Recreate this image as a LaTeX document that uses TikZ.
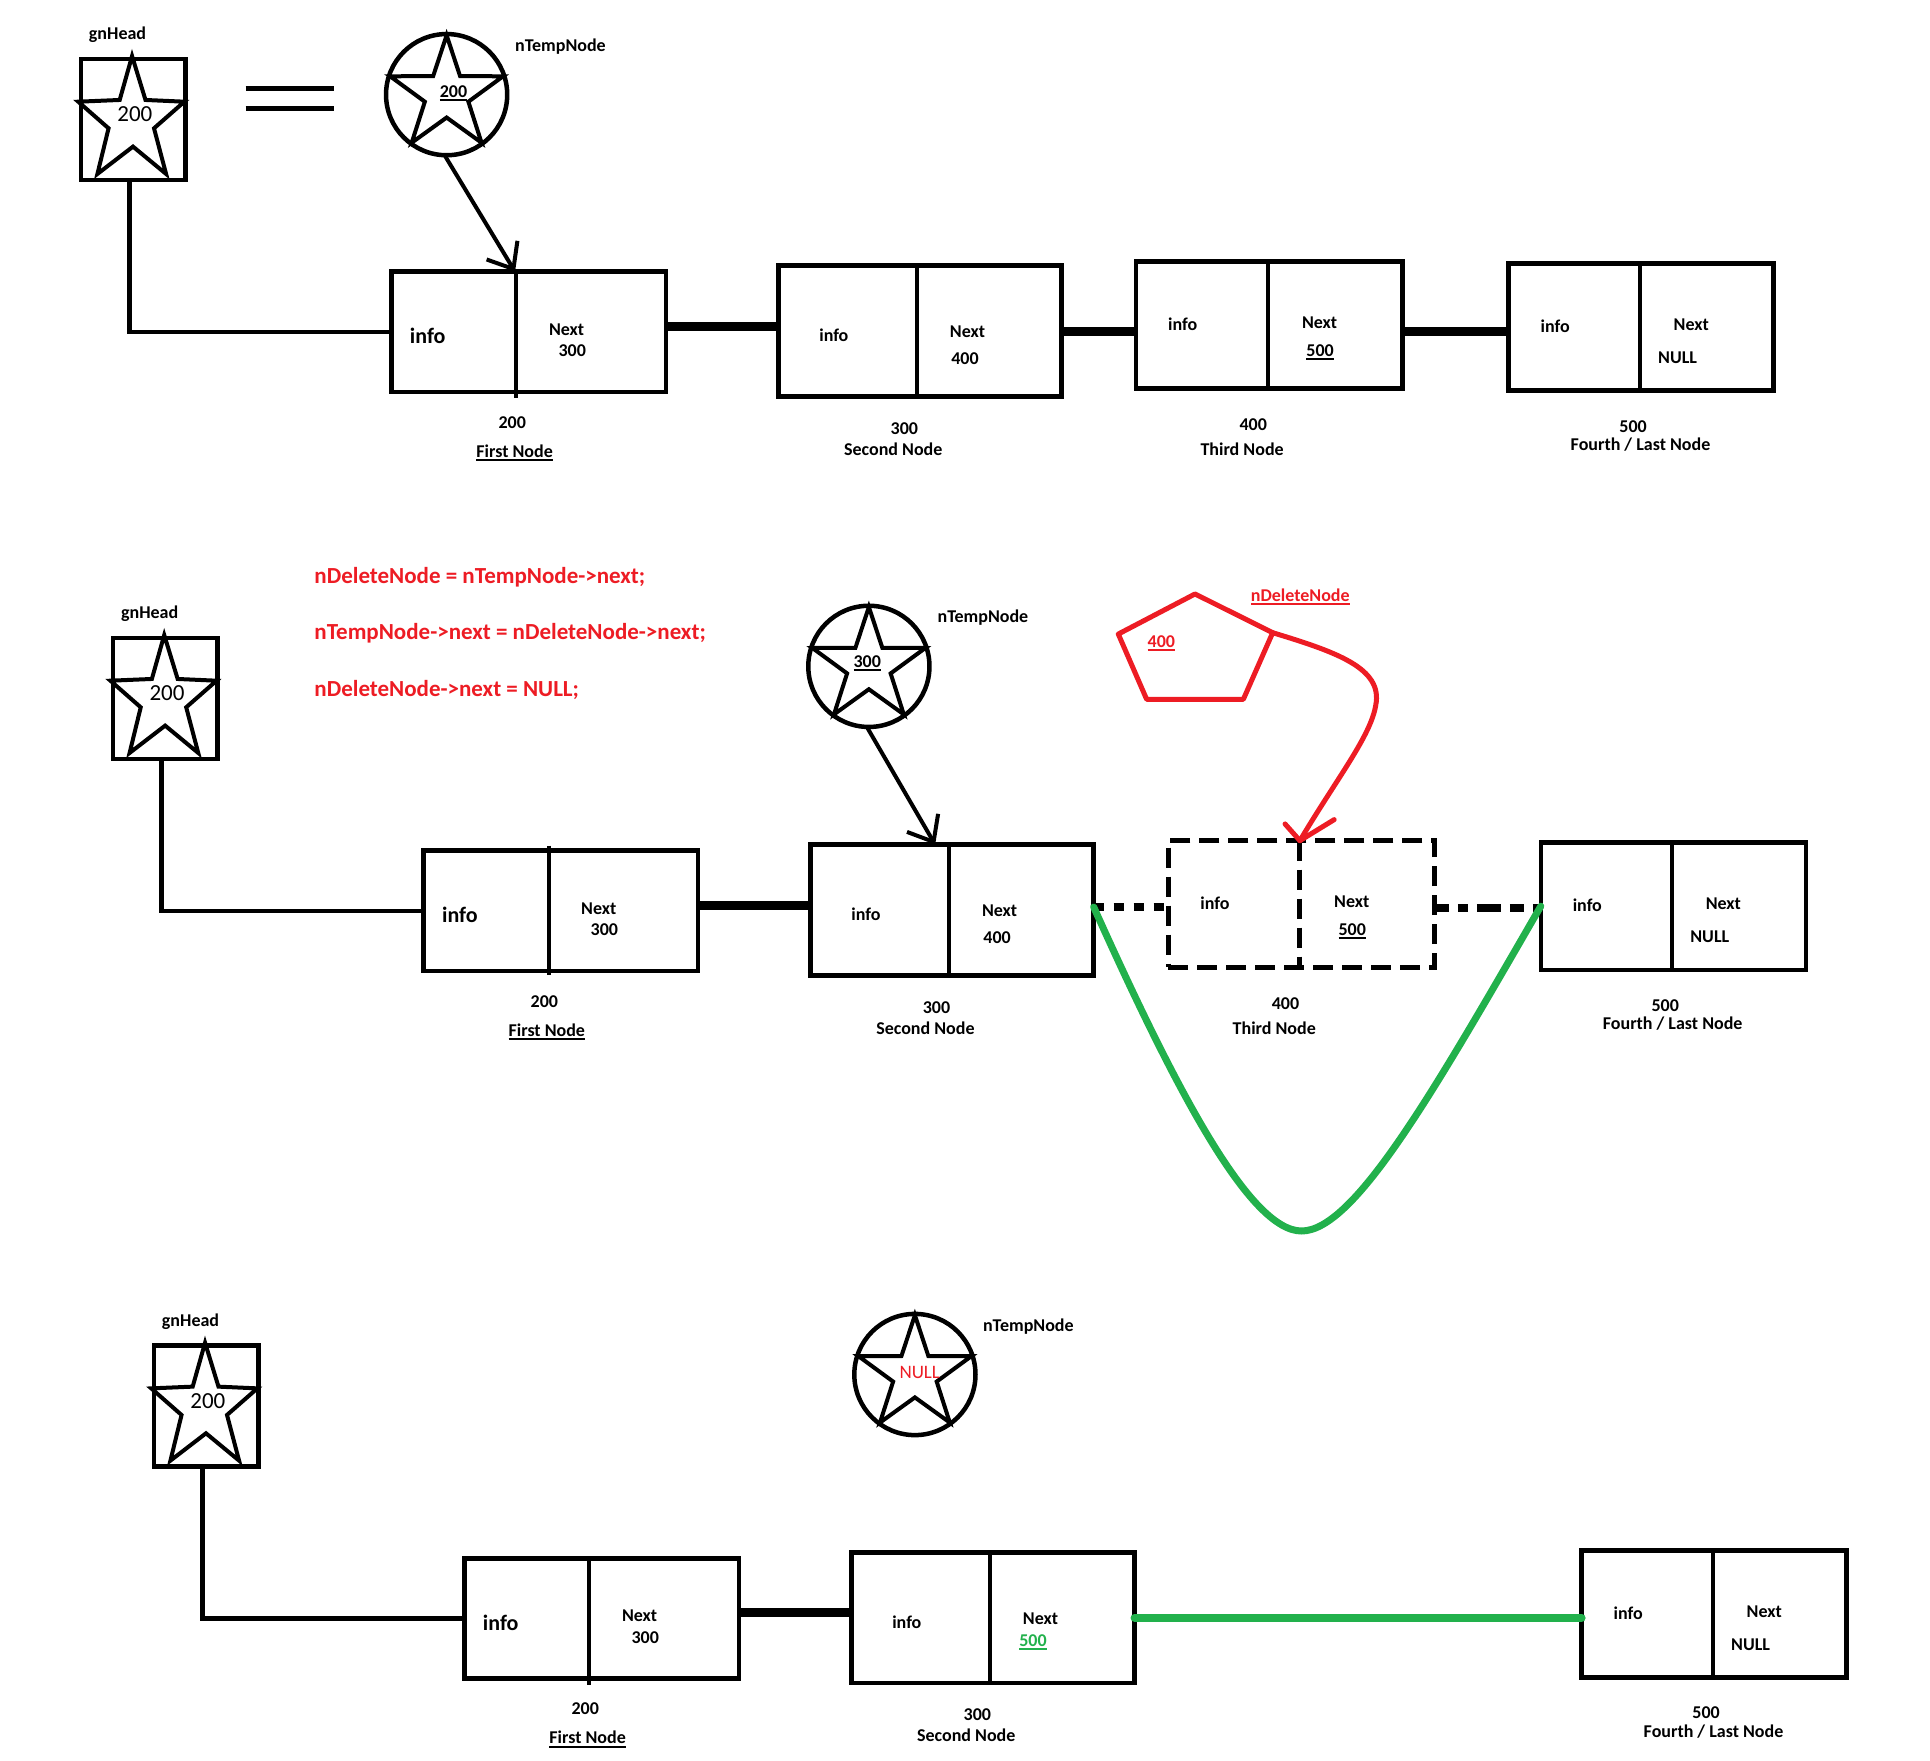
\documentclass[tikz,border=0pt]{standalone}
\usepackage{fontspec}
\setmainfont{Carlito}
\usetikzlibrary{arrows.meta,calc}
\definecolor{paintred}{RGB}{237,28,36}
\definecolor{paintgreen}{RGB}{34,177,76}
\newcommand{\ulbox}[1]{\setbox0=\hbox{#1}\rlap{\vrule width\wd0 height -1.6pt depth 3.6pt}\box0}
\begin{document}
\begin{tikzpicture}[x=1.2372pt,y=-1.2372pt,%
  lbl/.style={anchor=base,inner sep=0pt,font=\fontsize{18}{20}\selectfont\bfseries},%
  biglbl/.style={lbl,font=\fontsize{22}{24}\selectfont\bfseries},%
  headval/.style={anchor=base,inner sep=0pt,font=\fontsize{23}{26}\selectfont},%
  code/.style={anchor=base west,inner sep=0pt,text=paintred,font=\fontsize{23}{26}\selectfont\bfseries},%
  cell/.style={draw,line width=4.5pt,anchor=north west,outer sep=0pt,inner sep=0pt},%
  ghost/.style={cell,line width=5pt,dash pattern=on 20pt off 9pt},%
  headbox/.style={draw,line width=4.5pt,outer sep=0pt,inner sep=0pt,minimum width=104.5pt,minimum height=121.2pt},%
  tempring/.style={draw,circle,line width=4.5pt,outer sep=0pt,inner sep=0pt,minimum size=121.2pt},%
  starline/.style={line width=4pt},%
  divider/.style={line width=4pt},%
  link/.style={line width=9pt},%
  ptr/.style={line width=4pt,-{Straight Barb[length=22pt,width=36pt]}},%
  redline/.style={line width=5pt,draw=paintred,line cap=round,line join=round},%
  greenline/.style={line width=8pt,draw=paintgreen,line cap=round}]%
\useasboundingbox (0,0) rectangle (1560,1422.6);%
%
% first picture: the list as it is
\begin{scope}[shift={(0,0)}]%
\node[lbl] (gnA) at (95,31.8) {gnHead};%
\node[headbox] (headA) at (107.75,96.5) {};%
\draw[starline,shift={(headA.center)}] (-1,-51.2) -- (9.85,-15.7) -- (41.25,-14.3) -- (16.75,7.2) -- (26.5,44.1) -- (-0.25,22) -- (-29,44.1) -- (-20,7.2) -- (-44.5,-14.3) -- (-11,-15.7) -- cycle;%
\node[headval] (hvA) at (109,98.3) {200};%
\draw[line width=4.5pt] (198.5,71.7) -- (270,71.7);%
\draw[line width=4.5pt] (198.5,87.5) -- (270,87.5);%
\node[tempring] (tmpA) at (361,76.5) {};%
\draw[starline,shift={(tmpA.center)}] (270:48) -- (306:18.5) -- (342:48) -- (18:18.5) -- (54:48) -- (90:18.5) -- (126:48) -- (162:18.5) -- (198:48) -- (234:18.5) -- cycle;%
\node[lbl] (tvA) at (366.6,78.7) {\ulbox{200}};%
\node[lbl] (tnA) at (453,41.5) {nTempNode};%
%
\node[cell,minimum width=274.4pt,minimum height=120.3pt] (firstA) at (316.5,219.6) {};%
\draw[divider] ($(firstA.north west)!.455!(firstA.north east)$) -- ($(firstA.south west)!.455!(firstA.south east)+(0,5)$);%
\node[biglbl] (iA1) at (345.7,277.5) {info};%
\node[lbl] (xA1) at (458,270.8) {Next};%
\node[lbl] (vA1) at (462.5,288.3) {300};%
\node[lbl] (aA1) at (414,346) {200};%
\node[lbl] (cA1) at (416,369.6) {\ulbox{First Node}};%
%
\node[cell,minimum width=283.1pt,minimum height=130.8pt] (secondA) at (629.2,214.7) {};%
\draw[divider] ($(secondA.north west)!.49!(secondA.north east)$) -- ($(secondA.south west)!.49!(secondA.south east)$);%
\node[lbl] (iA2) at (674,276.2) {info};%
\node[lbl] (xA2) at (782,272.7) {Next};%
\node[lbl] (vA2) at (780,295) {400};%
\node[lbl] (aA2) at (731,351) {300};%
\node[lbl] (cA2) at (722,367.8) {Second Node};%
%
\node[cell,minimum width=266.7pt,minimum height=126.7pt] (thirdA) at (918.2,211.5) {};%
\draw[divider] ($(thirdA.north west)!.494!(thirdA.north east)$) -- ($(thirdA.south west)!.494!(thirdA.south east)$);%
\node[lbl] (iA3) at (956,267.3) {info};%
\node[lbl] (xA3) at (1066.6,265.4) {Next};%
\node[lbl] (vA3) at (1067,288.3) {\ulbox{500}};%
\node[lbl] (aA3) at (1013,347.6) {400};%
\node[lbl] (cA3) at (1004,368.3) {Third Node};%
%
\node[cell,minimum width=265pt,minimum height=127.1pt] (lastA) at (1219.4,213.1) {};%
\draw[divider] ($(lastA.north west)!.494!(lastA.north east)$) -- ($(lastA.south west)!.494!(lastA.south east)$);%
\node[lbl] (iA4) at (1257,268.9) {info};%
\node[lbl] (xA4) at (1367,267.3) {Next};%
\node[lbl] (vA4) at (1356,293.7) {NULL};%
\node[lbl] (aA4) at (1320,349.4) {500};%
\node[lbl] (cA4) at (1326,364.3) {Fourth / Last Node};%
%
\draw[line width=4.5pt] ([xshift=-3.8pt]headA.south) |- (firstA.west);%
\draw[link] ([yshift=5.8pt]firstA.east) -- ([yshift=5.8pt]firstA.east -| secondA.west);%
\draw[link] (secondA.east) -- (secondA.east -| thirdA.west);%
\draw[link] ([yshift=-6.5pt]thirdA.east) -- ([yshift=-6.5pt]thirdA.east -| lastA.west);%
\coordinate (tipA) at ($(firstA.north west)!.45!(firstA.north east)$);%
\draw[ptr] ([xshift=-2pt]tmpA.south) -- (tipA);%
\end{scope}%
%
% second picture: the third node is taken out
\begin{scope}[shift={(26,468)}]%
\node[lbl] (gnB) at (95,31.8) {gnHead};%
\node[headbox] (headB) at (107.75,96.5) {};%
\draw[starline,shift={(headB.center)}] (-1,-51.2) -- (9.85,-15.7) -- (41.25,-14.3) -- (16.75,7.2) -- (26.5,44.1) -- (-0.25,22) -- (-29,44.1) -- (-20,7.2) -- (-44.5,-14.3) -- (-11,-15.7) -- cycle;%
\node[headval] (hvB) at (109,98.3) {200};%
\node[tempring] (tmpB) at (676.3,70.6) {};%
\draw[starline,shift={(tmpB.center)}] (270:48) -- (306:18.5) -- (342:48) -- (18:18.5) -- (54:48) -- (90:18.5) -- (126:48) -- (162:18.5) -- (198:48) -- (234:18.5) -- cycle;%
\node[lbl] (tvB) at (675,71.4) {\ulbox{300}};%
\node[lbl] (tnB) at (768.5,35.5) {nTempNode};%
%
\node[cell,minimum width=274.4pt,minimum height=120.3pt] (firstB) at (316.5,219.6) {};%
\draw[divider] ($(firstB.north west)!.455!(firstB.north east)+(0,-4)$) -- ($(firstB.south west)!.455!(firstB.south east)+(0,3)$);%
\node[biglbl] (iB1) at (345.7,277.5) {info};%
\node[lbl] (xB1) at (458,270.8) {Next};%
\node[lbl] (vB1) at (462.5,288.3) {300};%
\node[lbl] (aB1) at (414,346) {200};%
\node[lbl] (cB1) at (416,369.6) {\ulbox{First Node}};%
%
\node[cell,minimum width=283.1pt,minimum height=130.8pt] (secondB) at (629.2,214.7) {};%
\draw[divider] ($(secondB.north west)!.49!(secondB.north east)$) -- ($(secondB.south west)!.49!(secondB.south east)$);%
\node[lbl] (iB2) at (674,276.2) {info};%
\node[lbl] (xB2) at (782,272.7) {Next};%
\node[lbl] (vB2) at (780,295) {400};%
\node[lbl] (aB2) at (731,351) {300};%
\node[lbl] (cB2) at (722,367.8) {Second Node};%
%
\node[ghost,minimum width=266.7pt,minimum height=126.7pt] (thirdB) at (918.2,211.5) {};%
\draw[divider,line width=5pt,dash pattern=on 20pt off 9pt] ($(thirdB.north west)!.494!(thirdB.north east)$) -- ($(thirdB.south west)!.494!(thirdB.south east)$);%
\node[lbl] (iB3) at (956,267.3) {info};%
\node[lbl] (xB3) at (1066.6,265.4) {Next};%
\node[lbl] (vB3) at (1067,288.3) {\ulbox{500}};%
\node[lbl] (aB3) at (1013,347.6) {400};%
\node[lbl] (cB3) at (1004,368.3) {Third Node};%
%
\node[cell,minimum width=265pt,minimum height=127.1pt] (lastB) at (1219.4,213.1) {};%
\draw[divider] ($(lastB.north west)!.494!(lastB.north east)$) -- ($(lastB.south west)!.494!(lastB.south east)$);%
\node[lbl] (iB4) at (1257,268.9) {info};%
\node[lbl] (xB4) at (1367,267.3) {Next};%
\node[lbl] (vB4) at (1356,293.7) {NULL};%
\node[lbl] (aB4) at (1320,349.4) {500};%
\node[lbl] (cB4) at (1326,364.3) {Fourth / Last Node};%
%
\draw[line width=4.5pt] ([xshift=-3.8pt]headB.south) |- (firstB.west);%
\draw[link] ([yshift=5.8pt]firstB.east) -- ([yshift=5.8pt]firstB.east -| secondB.west);%
\draw[line width=8pt,dash pattern=on 10pt off 10pt] ([yshift=3pt]secondB.east) -- ([yshift=3pt]secondB.east -| thirdB.west);%
\draw[line width=8pt,dash pattern=on 14pt off 9pt on 10pt off 9pt on 24pt off 9pt] ([yshift=-4pt]thirdB.east) -- ([yshift=-4pt]thirdB.east -| lastB.west);%
\coordinate (tipB) at ($(secondB.north west)!.44!(secondB.north east)$);%
\draw[ptr] ([xshift=-2pt]tmpB.south) -- (tipB);%
\coordinate (delTip) at ($(thirdB.north west)!.494!(thirdB.north east)$);%
\end{scope}%
%
\node[code] (codeA) at (254,472) {nDeleteNode = nTempNode->next;};%
\node[code] (codeB) at (254,517.3) {nTempNode->next = nDeleteNode->next;};%
\node[code] (codeC) at (254,562.6) {nDeleteNode->next = NULL;};%
\draw[redline] (965.9,480.1) -- (1028.7,511.4) coordinate (delR) -- (1005,565.2) -- (926.8,565.2) -- (903.9,512.5) -- cycle;%
\node[lbl,text=paintred] (delV) at (938.7,523.2) {\ulbox{400}};%
\node[lbl,text=paintred] (delN) at (1051,486.3) {\ulbox{nDeleteNode}};%
\draw[redline] (delR) .. controls (1080,527) and (1118,540) .. (1112,570) .. controls (1108,595) and (1080,630) .. (delTip);%
\draw[redline] (delTip) ++(-12,-13.5) -- (delTip) -- ++(27.7,-17);%
\draw[greenline,line width=7pt] ([yshift=3pt]secondB.east) .. controls (950,880) and (1010,995) .. (1052,995) .. controls (1095,995) and (1160,880) .. (lastB.west);%
%
% third picture: the list after the delete
\begin{scope}[shift={(59,1040)}]%
\node[lbl] (gnC) at (95,31.8) {gnHead};%
\node[headbox] (headC) at (107.75,96.5) {};%
\draw[starline,shift={(headC.center)}] (-1,-51.2) -- (9.85,-15.7) -- (41.25,-14.3) -- (16.75,7.2) -- (26.5,44.1) -- (-0.25,22) -- (-29,44.1) -- (-20,7.2) -- (-44.5,-14.3) -- (-11,-15.7) -- cycle;%
\node[headval] (hvC) at (109,98.3) {200};%
\node[tempring] (tmpC) at (680.5,71) {};%
\draw[starline,shift={(tmpC.center)}] (270:48) -- (306:18.5) -- (342:48) -- (18:18.5) -- (54:48) -- (90:18.5) -- (126:48) -- (162:18.5) -- (198:48) -- (234:18.5) -- cycle;%
\node[anchor=base,inner sep=0pt,text=paintred,font=\fontsize{19}{21}\selectfont] (tvC) at (684.4,74) {NULL};%
\node[lbl] (tnC) at (772.2,36.3) {nTempNode};%
%
\node[cell,minimum width=274.4pt,minimum height=120.3pt] (firstC) at (316.5,219.6) {};%
\draw[divider] ($(firstC.north west)!.455!(firstC.north east)$) -- ($(firstC.south west)!.455!(firstC.south east)+(0,5)$);%
\node[biglbl] (iC1) at (345.7,277.5) {info};%
\node[lbl] (xC1) at (458,270.8) {Next};%
\node[lbl] (vC1) at (462.5,288.3) {300};%
\node[lbl] (aC1) at (414,346) {200};%
\node[lbl] (cC1) at (416,369.6) {\ulbox{First Node}};%
%
\node[cell,minimum width=283.1pt,minimum height=130.8pt] (secondC) at (629.2,214.7) {};%
\draw[divider] ($(secondC.north west)!.49!(secondC.north east)$) -- ($(secondC.south west)!.49!(secondC.south east)$);%
\node[lbl] (iC2) at (674,276.2) {info};%
\node[lbl] (xC2) at (782,272.7) {Next};%
\node[lbl,text=paintgreen] (vC2) at (776,291) {\ulbox{500}};%
\node[lbl] (aC2) at (731,351) {300};%
\node[lbl] (cC2) at (722,367.8) {Second Node};%
%
\node[cell,minimum width=265pt,minimum height=127.1pt] (lastC) at (1219.4,213.1) {};%
\draw[divider] ($(lastC.north west)!.494!(lastC.north east)$) -- ($(lastC.south west)!.494!(lastC.south east)$);%
\node[lbl] (iC4) at (1257,268.9) {info};%
\node[lbl] (xC4) at (1367,267.3) {Next};%
\node[lbl] (vC4) at (1356,293.7) {NULL};%
\node[lbl] (aC4) at (1320,349.4) {500};%
\node[lbl] (cC4) at (1326,364.3) {Fourth / Last Node};%
%
\draw[line width=4.5pt] ([xshift=-3.8pt]headC.south) |- (firstC.west);%
\draw[link] ([yshift=5.8pt]firstC.east) -- ([yshift=5.8pt]firstC.east -| secondC.west);%
\draw[greenline] (secondC.east) -- (secondC.east -| lastC.west);%
\end{scope}%
\end{tikzpicture}
\end{document}
